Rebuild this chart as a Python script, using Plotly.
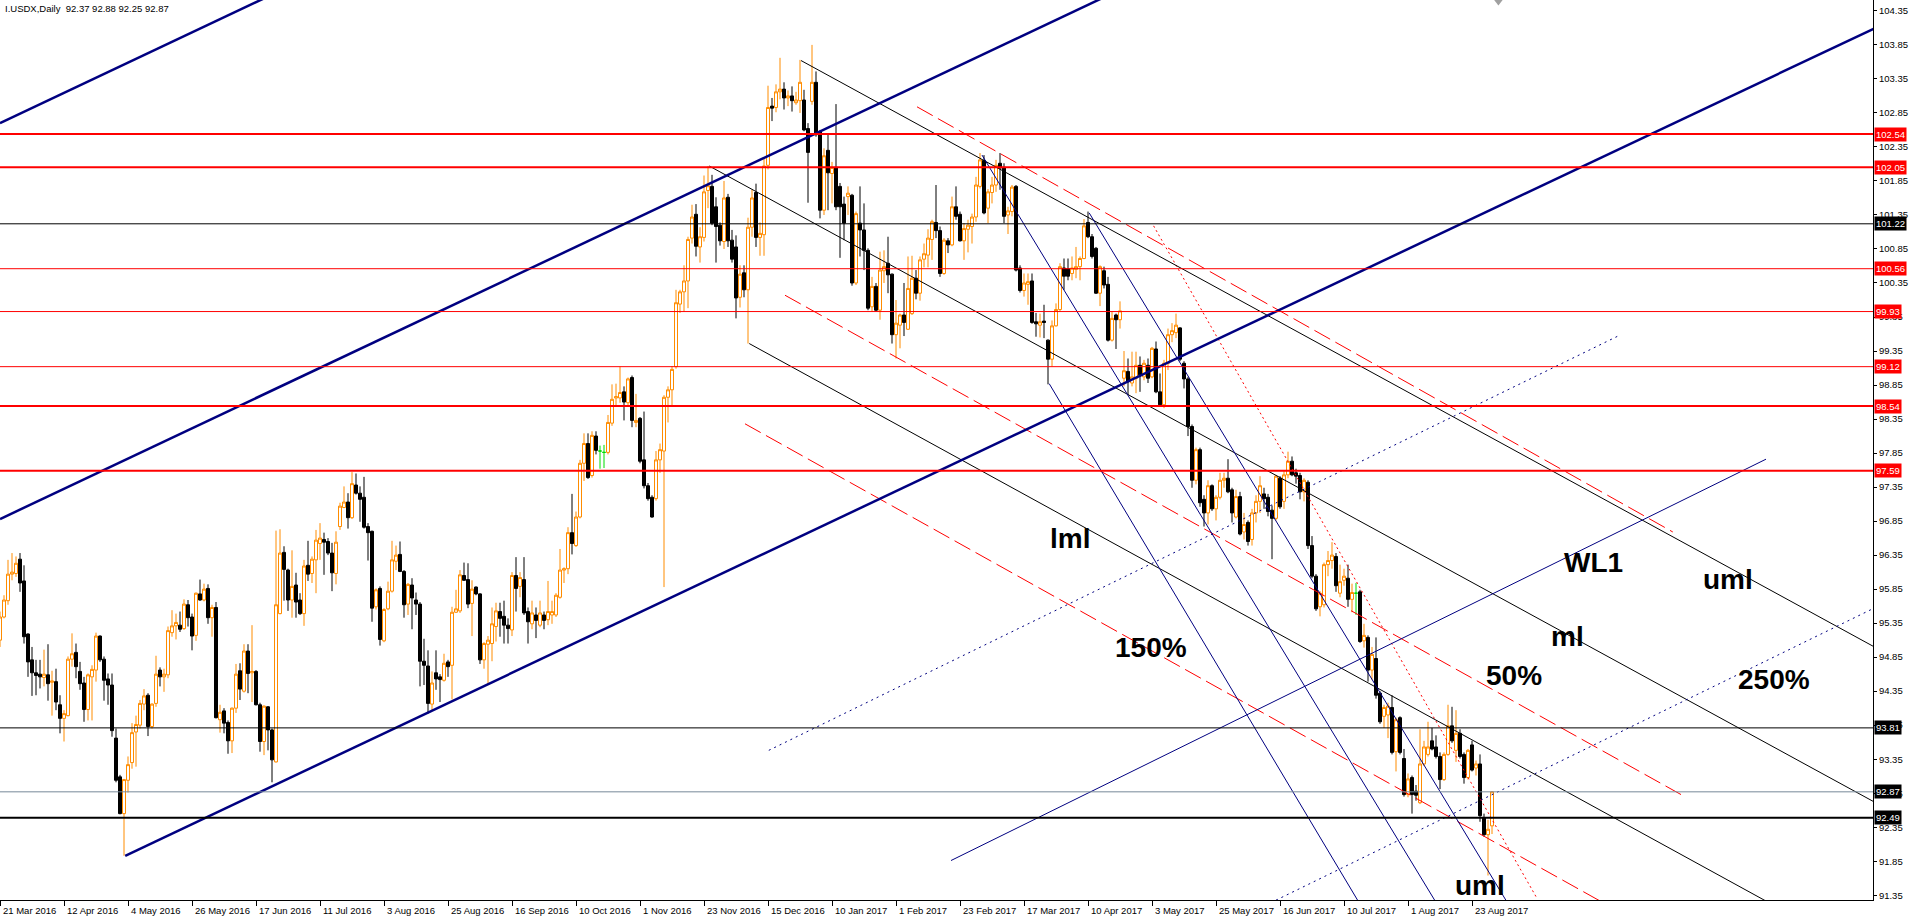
import plotly.graph_objects as go

# I.USDX daily, bar 0 = 21 Mar 2016 ... bar 373 = 30 Aug 2017 (one bar per trading day)
opens = [
    95.10, 95.44, 95.68, 96.07, 96.08, 96.29, 95.97, 95.19, 94.81, 94.62,
    94.60, 94.55, 94.59, 94.48, 94.49, 94.15, 93.95, 93.99, 94.82, 94.92,
    94.64, 94.47, 94.08, 94.56, 94.66, 95.16, 94.82, 94.53, 94.44, 93.66,
    93.09, 92.55, 93.04, 93.30, 93.75, 93.85, 94.16, 94.29, 93.83, 94.17,
    94.66, 94.56, 94.59, 95.21, 95.31, 95.32, 95.27, 95.62, 95.44, 95.17,
    95.78, 95.69, 95.86, 95.43, 95.58, 93.93, 94.06, 93.89, 93.62, 94.10,
    94.65, 94.35, 94.94, 94.62, 94.64, 94.15, 93.61, 94.12, 93.78, 93.31,
    95.49, 96.39, 96.13, 95.69, 95.91, 95.69, 95.49, 96.20, 96.08, 96.28,
    96.52, 96.58, 96.55, 96.38, 96.08, 96.77, 97.05, 97.13, 96.90, 97.38,
    97.26, 97.20, 96.77, 96.70, 95.59, 95.86, 95.09, 95.56, 95.82, 96.26,
    96.36, 96.11, 95.63, 95.91, 95.69, 95.63, 94.79, 94.72, 94.16, 94.62,
    94.56, 94.51, 94.78, 94.73, 95.51, 95.53, 96.05, 95.99, 95.64, 95.88,
    95.78, 94.81, 95.04, 95.05, 95.30, 95.52, 95.45, 95.32, 95.25, 96.05,
    95.89, 95.99, 95.52, 95.34, 95.47, 95.32, 95.47, 95.40, 95.47, 95.47,
    95.73, 96.13, 96.15, 96.68, 96.49, 96.91, 97.70, 97.99, 97.52, 98.10,
    97.88, 97.86, 97.86, 98.29, 98.66, 98.66, 98.75, 98.59, 98.96, 98.30,
    98.36, 97.75, 97.37, 97.20, 97.18, 97.75, 97.88, 98.67, 98.78, 99.12,
    100.04, 100.22, 100.38, 101.01, 101.36, 100.88, 101.02, 101.71, 101.77, 101.47,
    101.20, 100.96, 101.61, 100.98, 100.88, 100.14, 100.50, 100.25, 101.17, 101.68,
    101.02, 101.06, 102.08, 102.95, 102.93, 103.16, 103.20, 103.07, 103.10, 103.00,
    103.03, 103.04, 102.62, 103.02, 103.30, 102.57, 101.42, 102.30, 101.96, 102.05,
    101.77, 101.51, 101.62, 101.64, 100.35, 101.23, 101.13, 100.83, 100.00, 100.30,
    99.95, 100.53, 100.64, 100.48, 99.59, 99.73, 99.88, 99.67, 99.90, 100.42,
    100.20, 100.70, 100.76, 100.99, 101.24, 101.12, 100.49, 100.97, 100.91, 101.47,
    101.36, 100.97, 101.14, 101.18, 101.32, 101.77, 102.15, 101.45, 101.68, 101.79,
    102.11, 102.05, 101.35, 101.40, 101.77, 100.57, 100.24, 100.33, 100.38, 99.78,
    99.73, 99.79, 99.51, 99.23, 99.72, 99.96, 100.57, 100.56, 100.49, 100.55,
    100.59, 100.71, 101.24, 101.03, 100.86, 100.20, 100.53, 100.33, 99.51, 99.88,
    99.81, 98.95, 99.05, 98.88, 98.95, 99.14, 98.97, 99.14, 98.97, 99.38,
    98.75, 98.56, 99.17, 99.59, 99.62, 99.69, 99.17, 98.94, 98.24, 97.45,
    97.90, 97.17, 96.97, 97.37, 97.03, 97.20, 97.45, 97.48, 97.31, 96.91,
    97.21, 96.69, 96.83, 96.58, 96.97, 97.14, 97.25, 97.20, 97.01, 96.89,
    97.48, 97.14, 97.53, 97.73, 97.56, 97.52, 97.28, 97.42, 96.49, 96.04,
    95.59, 95.62, 96.21, 96.27, 96.33, 95.79, 95.98, 96.01, 95.70, 95.79,
    95.81, 95.09, 95.14, 94.66, 94.83, 94.32, 93.98, 94.00, 94.11, 93.46,
    93.96, 93.36, 92.83, 93.08, 92.88, 92.71, 93.28, 93.42, 93.62, 93.53,
    93.39, 93.05, 93.42, 93.84, 93.48, 93.73, 93.42, 93.08, 93.56, 93.22,
    93.28, 92.49, 92.24, 92.37,
]
highs = [
    95.52, 95.76, 96.28, 96.38, 96.33, 96.38, 96.20, 95.20, 95.00, 94.81,
    94.81, 94.96, 95.04, 94.65, 94.68, 94.29, 94.07, 94.86, 95.20, 95.05,
    94.78, 94.56, 94.61, 94.73, 95.21, 95.17, 94.86, 94.61, 94.61, 93.80,
    93.12, 93.06, 93.39, 93.88, 93.99, 94.22, 94.38, 94.32, 94.17, 94.87,
    94.70, 94.68, 95.30, 95.54, 95.49, 95.52, 95.70, 95.69, 95.49, 95.80,
    95.99, 95.93, 95.92, 95.62, 95.66, 94.15, 94.10, 93.92, 94.11, 94.75,
    94.76, 95.04, 95.04, 95.32, 94.66, 94.18, 94.14, 94.13, 93.80, 96.71,
    96.73, 96.48, 96.15, 96.42, 96.09, 95.79, 96.28, 96.56, 96.33, 96.72,
    96.82, 96.68, 96.60, 96.53, 96.70, 97.12, 97.36, 97.26, 97.57, 97.55,
    97.36, 97.50, 96.82, 96.71, 95.86, 95.89, 95.57, 95.96, 96.56, 96.49,
    96.55, 96.13, 95.94, 96.01, 95.80, 95.66, 95.12, 94.95, 94.64, 94.95,
    94.60, 94.90, 94.81, 95.59, 95.84, 96.13, 96.24, 96.23, 95.98, 95.89,
    95.79, 95.07, 95.16, 95.58, 95.65, 95.65, 95.68, 95.42, 96.10, 96.32,
    96.10, 96.32, 95.58, 95.68, 95.58, 95.68, 95.52, 95.97, 95.68, 95.79,
    96.44, 96.17, 96.76, 97.25, 96.99, 97.75, 98.14, 98.14, 98.17, 98.17,
    97.96, 97.97, 98.41, 98.86, 98.87, 99.12, 98.83, 98.96, 98.99, 98.72,
    98.38, 98.46, 97.41, 97.23, 97.88, 97.99, 98.70, 98.83, 99.13, 100.25,
    100.25, 100.61, 101.03, 101.50, 101.51, 101.17, 101.93, 102.07, 101.94, 101.61,
    101.24, 101.85, 101.66, 101.13, 101.05, 100.61, 100.61, 101.31, 101.72, 101.81,
    101.24, 102.20, 103.25, 103.07, 103.27, 103.66, 103.30, 103.18, 103.24, 103.16,
    103.63, 103.19, 102.70, 103.85, 103.46, 102.60, 102.33, 102.55, 102.13, 102.98,
    101.82, 101.62, 101.77, 101.66, 101.40, 101.77, 101.52, 100.86, 100.44, 100.35,
    100.81, 100.83, 101.03, 100.49, 100.10, 99.90, 100.35, 100.74, 100.75, 100.54,
    100.74, 100.93, 101.14, 101.28, 101.79, 101.18, 101.01, 101.01, 101.62, 101.77,
    101.40, 101.23, 101.28, 101.37, 101.91, 102.26, 102.23, 101.73, 101.91, 102.16,
    102.26, 102.11, 101.47, 101.79, 101.79, 100.61, 100.49, 100.49, 100.49, 99.91,
    99.90, 100.03, 99.52, 99.80, 100.05, 100.64, 100.71, 100.71, 100.74, 100.88,
    100.74, 101.29, 101.40, 101.07, 100.88, 100.61, 100.59, 100.44, 99.93, 99.90,
    100.08, 99.35, 99.24, 99.34, 99.34, 99.27, 99.22, 99.24, 99.41, 99.49,
    99.02, 99.22, 99.68, 99.76, 99.90, 99.70, 99.20, 98.97, 98.27, 97.93,
    97.93, 97.23, 97.45, 97.39, 97.23, 97.56, 97.56, 97.76, 97.34, 97.31,
    97.28, 96.97, 96.86, 97.03, 97.23, 97.51, 97.34, 97.25, 97.08, 97.53,
    97.51, 97.59, 97.87, 97.80, 97.62, 97.56, 97.48, 97.45, 96.63, 96.07,
    95.82, 96.24, 96.41, 96.54, 96.38, 96.21, 96.15, 96.21, 95.93, 95.94,
    95.84, 95.34, 95.17, 95.00, 95.14, 94.35, 94.15, 94.18, 94.29, 93.96,
    93.98, 93.50, 93.14, 93.11, 92.97, 93.79, 93.62, 93.90, 93.81, 93.70,
    93.45, 93.45, 94.15, 94.12, 94.07, 93.79, 93.45, 93.50, 93.62, 93.33,
    93.42, 92.55, 92.46, 92.88,
]
lows = [
    95.00, 95.42, 95.62, 95.98, 96.03, 95.81, 95.05, 94.56, 94.28, 94.29,
    94.39, 94.42, 94.21, 93.99, 94.07, 93.73, 93.61, 93.98, 94.71, 94.54,
    94.37, 93.90, 93.92, 93.92, 94.49, 94.78, 94.21, 94.15, 93.68, 93.01,
    92.54, 91.93, 92.86, 93.21, 93.24, 93.80, 94.07, 93.69, 93.80, 94.12,
    94.42, 94.34, 94.54, 95.15, 95.11, 95.22, 95.25, 95.30, 94.95, 95.09,
    95.68, 95.67, 95.34, 95.15, 93.95, 93.74, 93.73, 93.43, 93.44, 94.03,
    94.22, 94.33, 94.32, 94.19, 94.14, 93.46, 93.41, 93.48, 93.01, 93.30,
    95.48, 95.68, 95.53, 95.43, 95.43, 95.47, 95.31, 95.97, 95.94, 95.79,
    96.28, 96.06, 96.35, 95.82, 95.92, 96.72, 97.04, 96.74, 96.88, 97.24,
    96.84, 96.74, 96.27, 95.37, 95.55, 95.02, 95.07, 95.54, 95.80, 96.13,
    96.10, 95.43, 95.47, 95.26, 95.47, 94.42, 94.44, 94.02, 94.07, 94.37,
    94.19, 94.49, 94.56, 94.23, 95.50, 95.50, 95.97, 95.57, 95.16, 95.76,
    94.75, 94.68, 94.44, 94.79, 95.08, 95.15, 95.05, 95.05, 95.16, 95.52,
    95.73, 95.47, 95.05, 95.26, 95.13, 95.29, 95.26, 95.32, 95.34, 95.44,
    95.71, 95.94, 96.07, 96.36, 96.47, 96.89, 97.44, 97.47, 97.49, 97.83,
    97.62, 97.63, 97.83, 98.25, 98.54, 98.59, 98.33, 98.54, 98.23, 98.23,
    97.70, 97.33, 97.15, 96.90, 97.15, 97.56, 95.88, 98.30, 98.53, 99.09,
    99.91, 99.93, 99.98, 100.93, 100.74, 100.65, 100.96, 101.45, 101.20, 100.65,
    100.90, 100.85, 100.88, 100.65, 99.83, 99.99, 100.14, 99.46, 101.03, 100.88,
    100.75, 100.75, 102.02, 102.73, 102.86, 103.05, 102.90, 102.95, 102.87, 102.97,
    102.85, 102.58, 101.53, 102.97, 102.50, 101.30, 101.35, 101.42, 101.52, 101.42,
    100.72, 100.98, 101.35, 100.31, 100.32, 100.74, 100.54, 99.95, 99.93, 99.93,
    99.81, 100.35, 100.20, 99.46, 99.24, 99.39, 99.57, 99.66, 99.88, 100.11,
    100.09, 100.58, 100.58, 100.69, 101.01, 100.44, 100.47, 100.79, 100.89, 101.28,
    100.96, 100.69, 100.80, 100.93, 101.25, 101.74, 101.36, 101.23, 101.52, 101.69,
    101.72, 101.23, 101.07, 101.33, 100.52, 100.21, 100.15, 100.03, 99.75, 99.56,
    99.55, 99.54, 98.86, 99.12, 99.71, 99.93, 100.25, 100.39, 100.39, 100.42,
    100.39, 100.70, 101.01, 100.71, 100.19, 100.01, 100.27, 99.49, 99.49, 99.38,
    99.68, 98.83, 98.70, 98.83, 98.73, 98.75, 98.92, 98.88, 98.95, 98.73,
    98.53, 98.51, 99.07, 99.48, 99.54, 99.20, 98.80, 98.10, 97.34, 97.39,
    97.06, 96.77, 96.80, 97.00, 96.86, 97.17, 97.34, 97.26, 96.83, 96.89,
    96.64, 96.58, 96.49, 96.49, 96.83, 96.97, 97.03, 96.92, 96.29, 96.86,
    97.03, 97.03, 97.48, 97.51, 97.40, 97.17, 97.14, 96.44, 96.01, 95.53,
    95.45, 95.58, 96.04, 96.15, 95.81, 95.73, 95.90, 95.59, 95.51, 95.47,
    95.06, 94.99, 94.49, 94.52, 94.24, 93.87, 93.81, 93.66, 93.42, 93.17,
    93.42, 92.80, 92.79, 92.55, 92.74, 92.69, 93.25, 93.39, 93.48, 93.36,
    92.91, 93.03, 93.40, 93.59, 93.31, 93.36, 92.99, 93.05, 93.17, 93.11,
    92.43, 92.21, 91.64, 92.25,
]
closes = [
    95.44, 95.69, 96.07, 96.10, 96.23, 95.94, 95.15, 94.78, 94.62, 94.58,
    94.56, 94.60, 94.46, 94.50, 94.19, 93.95, 94.02, 94.82, 94.90, 94.71,
    94.46, 94.08, 94.59, 94.67, 95.16, 94.81, 94.51, 94.44, 93.77, 93.04,
    92.55, 93.05, 93.27, 93.74, 93.86, 94.17, 94.28, 93.83, 94.16, 94.60,
    94.56, 94.60, 95.24, 95.31, 95.36, 95.26, 95.63, 95.43, 95.16, 95.79,
    95.69, 95.85, 95.43, 95.58, 93.96, 94.04, 93.88, 93.62, 94.10, 94.60,
    94.38, 94.94, 94.61, 94.64, 94.15, 93.61, 94.13, 93.78, 93.34, 95.62,
    96.38, 96.14, 95.69, 95.89, 95.66, 95.49, 96.19, 96.07, 96.29, 96.57,
    96.60, 96.54, 96.38, 96.09, 96.54, 97.07, 97.13, 96.90, 97.40, 97.26,
    97.17, 96.76, 96.68, 95.57, 95.84, 95.11, 95.55, 95.82, 96.28, 96.35,
    96.11, 95.62, 95.92, 95.72, 95.63, 94.79, 94.73, 94.17, 94.47, 94.53,
    94.52, 94.76, 94.71, 95.51, 95.56, 96.06, 95.98, 95.63, 95.85, 95.78,
    94.81, 95.05, 95.10, 95.34, 95.53, 95.42, 95.32, 95.27, 96.05, 95.86,
    96.02, 95.50, 95.37, 95.50, 95.39, 95.50, 95.39, 95.52, 95.52, 95.76,
    96.13, 96.15, 96.68, 96.52, 96.91, 97.70, 97.99, 97.49, 98.11, 97.89,
    97.88, 97.86, 98.30, 98.64, 98.68, 98.74, 98.60, 98.94, 98.33, 98.33,
    97.73, 97.37, 97.18, 96.91, 97.75, 97.90, 98.67, 98.78, 99.08, 100.06,
    100.22, 100.38, 100.99, 101.32, 100.89, 101.03, 101.69, 101.78, 101.23, 101.18,
    100.97, 101.60, 100.97, 100.70, 100.13, 100.48, 100.25, 101.17, 101.60, 101.02,
    101.08, 102.07, 102.93, 102.92, 103.16, 103.20, 103.07, 103.10, 103.03, 103.04,
    103.30, 102.60, 102.27, 103.30, 102.53, 101.42, 102.22, 101.97, 102.05, 101.47,
    101.47, 101.23, 101.67, 100.35, 101.37, 101.13, 100.83, 99.98, 100.30, 99.95,
    100.54, 100.59, 100.47, 99.59, 99.76, 99.88, 99.77, 100.27, 100.42, 100.20,
    100.69, 100.78, 101.01, 101.25, 101.12, 100.49, 100.98, 100.91, 101.47, 101.33,
    100.97, 101.15, 101.20, 101.32, 101.79, 102.16, 101.38, 101.69, 101.79, 102.08,
    102.04, 101.33, 101.41, 101.76, 100.54, 100.24, 100.35, 100.37, 99.77, 99.75,
    99.78, 99.77, 99.23, 99.72, 99.96, 100.59, 100.45, 100.45, 100.57, 100.59,
    100.71, 101.19, 101.03, 100.74, 100.20, 100.59, 100.32, 99.51, 99.83, 99.81,
    99.94, 99.06, 98.90, 98.97, 99.14, 99.00, 99.17, 98.95, 99.39, 98.75,
    98.56, 99.17, 99.59, 99.65, 99.73, 99.23, 98.94, 98.24, 97.45, 97.90,
    97.12, 96.97, 97.37, 97.03, 97.20, 97.45, 97.48, 97.28, 96.97, 97.21,
    96.66, 96.80, 96.55, 96.97, 97.14, 97.37, 97.18, 96.99, 96.89, 97.51,
    97.06, 97.53, 97.73, 97.53, 97.51, 97.28, 97.45, 96.49, 96.04, 95.56,
    95.79, 96.21, 96.27, 96.35, 95.90, 95.96, 96.04, 95.70, 95.80, 95.79,
    95.08, 95.17, 94.66, 94.89, 94.29, 93.90, 94.11, 94.13, 93.45, 93.93,
    93.45, 92.83, 93.06, 92.83, 92.82, 93.28, 93.53, 93.53, 93.50, 93.39,
    93.05, 93.42, 93.84, 93.62, 93.73, 93.39, 93.08, 93.48, 93.19, 93.28,
    92.52, 92.24, 92.32, 92.87,
]

date_labels = [
    "21 Mar 2016", "12 Apr 2016", "4 May 2016", "26 May 2016", "17 Jun 2016",
    "11 Jul 2016", "3 Aug 2016", "25 Aug 2016", "16 Sep 2016", "10 Oct 2016",
    "1 Nov 2016", "23 Nov 2016", "15 Dec 2016", "10 Jan 2017", "1 Feb 2017",
    "23 Feb 2017", "17 Mar 2017", "10 Apr 2017", "3 May 2017", "25 May 2017",
    "16 Jun 2017", "10 Jul 2017", "1 Aug 2017", "23 Aug 2017",
]
LABEL_STEP = 16  # bars between date labels

price_ticks = [91.35, 91.85, 92.35, 92.85, 93.35, 93.85, 94.35, 94.85, 95.35,
               95.85, 96.35, 96.85, 97.35, 97.85, 98.35, 98.85, 99.35, 99.85,
               100.35, 100.85, 101.35, 101.85, 102.35, 102.85, 103.35, 103.85, 104.35]

# horizontal levels
levels = [102.54, 102.05, 101.22, 100.56, 99.93, 99.12, 98.54, 97.59, 93.81, 92.87, 92.49]
level_colors = ["red", "red", "black", "red", "red", "red", "red", "red", "black", "#778899", "black"]
level_widths = [2, 2, 1, 1, 1, 1, 2, 2, 1, 1, 2]
level_tags = ["red", "red", "black", "red", "red", "red", "red", "red", "black", "black", "black"]

# trend lines: (bar0, price0, bar1, price1)
channel_lines = [
    (0, 102.70, 72, 104.70),
    (0, 96.88, 276, 104.55),
    (31.3, 91.93, 468.5, 104.09),
]
navy_thin_lines = [
    (237.75, 91.86, 441.5, 97.76),   # WL1
    (245.5, 102.23, 360.5, 91.10),
    (262.3, 98.87, 341.2, 91.10),
    (272.3, 101.38, 378.3, 91.10),
]
navy_dotted_lines = [
    (192.2, 93.48, 405.2, 99.59),
    (316.3, 91.20, 468.5, 95.57),
]
pitchfork_lines = [
    (200.25, 103.62, 468.6, 95.00),  # uml
    (177.3, 102.07, 468.6, 92.72),   # ml
    (187.3, 99.46, 443.5, 91.20),    # lml
]
red_dashed_lines = [
    (229.25, 102.94, 418.2, 96.69),
    (196.25, 100.17, 420.25, 92.83),  # 50%
    (186.25, 98.28, 402.0, 91.20),    # 150%
]
red_dotted_lines = [
    (288.4, 101.19, 384.0, 91.33),
]

label_text = ["lml", "150%", "50%", "WL1", "ml", "uml", "250%", "uml"]
label_bar = [267.6, 287.8, 378.5, 398.3, 391.8, 432.0, 443.5, 370.0]
label_price = [96.64, 95.04, 94.63, 96.29, 95.20, 96.04, 94.57, 91.53]

title_text = "I.USDX,Daily  92.37 92.88 92.25 92.87"

# chart shift marker at the top edge
shift_bar = [374.6]
shift_price = [104.51]

FONT = "Liberation Sans"
ORANGE = "#FF8C00"
NAVY = "#000080"

bars = list(range(len(closes)))
flat = [i for i in bars if opens[i] == closes[i]]
body = [i for i in bars if opens[i] != closes[i]]

fig = go.Figure()

fig.add_trace(go.Candlestick(
    x=[bars[i] for i in body],
    open=[opens[i] for i in body],
    high=[highs[i] for i in body],
    low=[lows[i] for i in body],
    close=[closes[i] for i in body],
    increasing=dict(line=dict(color=ORANGE, width=1), fillcolor="white"),
    decreasing=dict(line=dict(color="black", width=1), fillcolor="black"),
    whiskerwidth=0,
    hoverinfo="skip",
))

# doji bars are drawn in the chart-line colour
fig.add_trace(go.Candlestick(
    x=[bars[i] for i in flat],
    open=[opens[i] for i in flat],
    high=[highs[i] for i in flat],
    low=[lows[i] for i in flat],
    close=[closes[i] for i in flat],
    increasing=dict(line=dict(color="#00DD00", width=1), fillcolor="#00DD00"),
    decreasing=dict(line=dict(color="#00DD00", width=1), fillcolor="#00DD00"),
    whiskerwidth=0,
    hoverinfo="skip",
))


def add_lines(lines, color, width, dash="solid"):
    xs, ys = [], []
    for x0, y0, x1, y1 in lines:
        xs += [x0, x1, None]
        ys += [y0, y1, None]
    fig.add_trace(go.Scatter(
        x=xs, y=ys, mode="lines",
        line=dict(color=color, width=width, dash=dash),
        hoverinfo="skip",
    ))


add_lines(red_dashed_lines, "red", 1, "18px,6px")
add_lines(red_dotted_lines, "red", 1, "2px,3px")
add_lines(pitchfork_lines, "black", 1)
add_lines(navy_dotted_lines, NAVY, 1, "2px,4px")
add_lines(navy_thin_lines, NAVY, 1)
add_lines(channel_lines, NAVY, 2.5)

fig.add_trace(go.Scatter(
    x=shift_bar, y=shift_price, mode="markers",
    marker=dict(symbol="triangle-down", size=11, color="#A0A0A0"),
    cliponaxis=False, hoverinfo="skip",
))

shapes = []
annotations = []

for level, color, width, tag in zip(levels, level_colors, level_widths, level_tags):
    shapes.append(dict(
        type="line", xref="paper", yref="y",
        x0=0, x1=1, y0=level, y1=level,
        line=dict(color=color, width=width),
    ))
    annotations.append(dict(
        xref="paper", yref="y", x=1, y=level,
        xanchor="left", yanchor="middle", xshift=1,
        text="%.2f" % level, showarrow=False,
        bgcolor=tag, borderpad=1,
        font=dict(family=FONT, size=9.5, color="white"),
    ))

for k, lab in enumerate(date_labels):
    annotations.append(dict(
        xref="x", yref="paper", x=k * LABEL_STEP, y=0,
        xanchor="left", yanchor="top", xshift=1, yshift=-3,
        text=lab, showarrow=False,
        font=dict(family=FONT, size=9.5, color="black"),
    ))

for txt, bx, py in zip(label_text, label_bar, label_price):
    annotations.append(dict(
        xref="x", yref="y", x=bx, y=py,
        xanchor="center", yanchor="middle", yshift=-3,
        text="<b>%s</b>" % txt, showarrow=False,
        font=dict(family=FONT, size=28, color="black"),
    ))

annotations.append(dict(
    xref="paper", yref="paper", x=0, y=1,
    xanchor="left", yanchor="top", xshift=3, yshift=-1,
    text=title_text, showarrow=False,
    font=dict(family=FONT, size=9.5, color="black"),
))

fig.update_layout(
    width=1913, height=921,
    margin=dict(l=0, r=40, t=0, b=21),
    paper_bgcolor="white", plot_bgcolor="white",
    showlegend=False, hovermode=False,
    boxmode="overlay", boxgap=0.25, boxgroupgap=0,
    font=dict(family=FONT, size=10, color="black"),
    shapes=shapes, annotations=annotations,
)
fig.update_xaxes(
    range=[0, 468.25], showgrid=False, zeroline=False,
    showline=True, linecolor="black", linewidth=1,
    ticks="outside", ticklen=5, tickcolor="black",
    tickvals=[k * LABEL_STEP for k in range(len(date_labels))],
    showticklabels=False, rangeslider_visible=False,
)
fig.update_yaxes(
    side="right", range=[91.28, 104.51], showgrid=False, zeroline=False,
    showline=True, linecolor="black", linewidth=1,
    ticks="outside", ticklen=3, tickcolor="black",
    tickvals=price_ticks, ticktext=["%.2f" % v for v in price_ticks],
    tickfont=dict(family=FONT, size=9.5, color="black"),
)

fig.write_html(
    "out.html",
    config={"displayModeBar": False},
    post_script="document.body.style.margin='0';",
)
